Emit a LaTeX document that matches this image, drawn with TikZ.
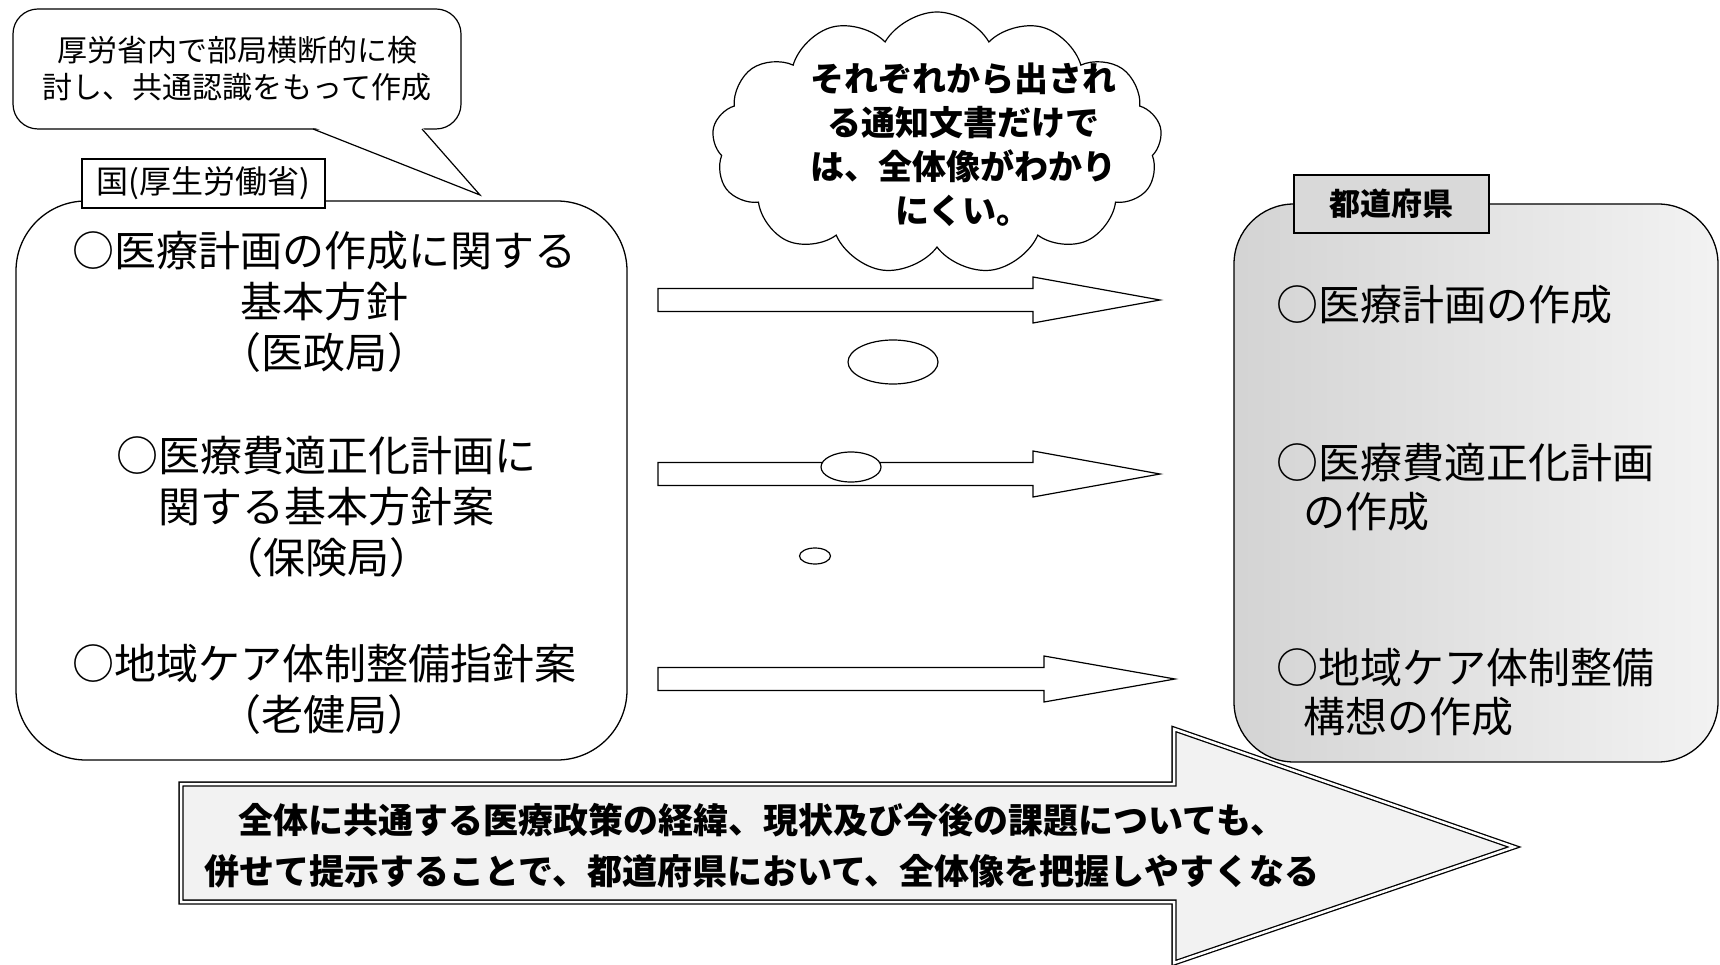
\documentclass[tikz,border=0pt]{standalone}
\usepackage{fontspec}
\setmainfont{Noto Sans CJK JP}
\usetikzlibrary{shapes.geometric,shapes.symbols}

\begin{document}
\begin{tikzpicture}[x=1pt, y=-1pt, line width=1.2pt,
  tag/.style={draw, fill=white, inner sep=0pt},
  item/.style={align=center, inner sep=0pt, font=\fontsize{42}{51}\selectfont},
  ritem/.style={align=left, anchor=west, inner sep=0pt, font=\fontsize{42}{49}\selectfont}]
\useasboundingbox (0,0) rectangle (1720,965);

% callout
\node[draw, fill=white, rounded corners=25pt, minimum width=448pt, minimum height=120pt, inner sep=0pt, align=center, font=\fontsize{30}{37}\selectfont] (kentou) at (237,69) {厚労省内で部局横断的に検\\討し、共通認識をもって作成};
\fill[white] (313,127) -- (480,195) -- (422,127) -- cycle;
\draw (313,129) -- (480,195) -- (422,129);

% left box
\node[draw, line width=1.3pt, fill=white, rounded corners=70pt, minimum width=611pt, minimum height=559pt, inner sep=0pt] (kuni) at (321.5,480.5) {};
\node[tag, minimum width=243pt, minimum height=49pt, font=\fontsize{32}{32}\selectfont] (kunitag) at (203.5,183.5) {国(厚生労働省)};
\node[item] (hoshin1) at (324,302) {○医療計画の作成に関する\\基本方針\\（医政局）};
\node[item] (hoshin2) at (326,507) {○医療費適正化計画に\\関する基本方針案\\（保険局）};
\node[item] (hoshin3) at (324,689.5) {○地域ケア体制整備指針案\\（老健局）};

% right box
\node[draw, line width=1.3pt, rounded corners=60pt, left color=black!17, right color=black!5, minimum width=484pt, minimum height=558pt, inner sep=0pt] (ken) at (1476,483) {};
\node[tag, fill=black!15, minimum width=195pt, minimum height=58pt, font=\bfseries\fontsize{31}{31}\selectfont] (kentag) at (1391.5,204) {都道府県};
\node[ritem] (sakusei1) at (1276,305) {○医療計画の作成};
\node[ritem] (sakusei2) at (1276,487.5) {○医療費適正化計画\\\hspace*{27pt}の作成};
\node[ritem] (sakusei3) at (1276,692.5) {○地域ケア体制整備\\\hspace*{27pt}構想の作成};

% arrows
\foreach \y/\b/\t in {300/1033/1160, 474/1033/1160, 679/1044/1175}
  \draw[fill=white] (658,\y-11.5) -- (\b,\y-11.5) -- (\b,\y-23) -- (\t,\y) -- (\b,\y+23) -- (\b,\y+11.5) -- (658,\y+11.5) -- cycle;

% cloud and bubbles
\node[cloud, draw, fill=white, cloud puffs=13, cloud puff arc=120, aspect=1.9, minimum width=450pt, minimum height=262pt, inner sep=0pt] (kumo) at (937,143) {};
\node[align=center, inner sep=0pt, font=\bfseries\fontsize{34}{44}\selectfont] (kumotext) at (963,145) {それぞれから出され\\る通知文書だけで\\は、全体像がわかり\\にくい。};
\foreach \cx/\cy/\w/\h [count=\i] in {893/362/90/44, 851/467/60/30, 815/556/31/16}
  \node[draw, ellipse, fill=white, minimum width=\w, minimum height=\h, inner sep=0pt] (awa\i) at (\cx,\cy) {};

% big arrow
\draw[line width=1.3pt, double=white, double distance=2.5pt, fill=black!5] (181,784) -- (1174,784) -- (1174,729) -- (1514,847) -- (1174,963) -- (1174,902) -- (181,902) -- cycle;
\node[align=center, inner sep=0pt, font=\bfseries\fontsize{35}{51}\selectfont] (matome) at (762,846) {全体に共通する医療政策の経緯、現状及び今後の課題についても、\\併せて提示することで、都道府県において、全体像を把握しやすくなる};
\end{tikzpicture}
\end{document}
